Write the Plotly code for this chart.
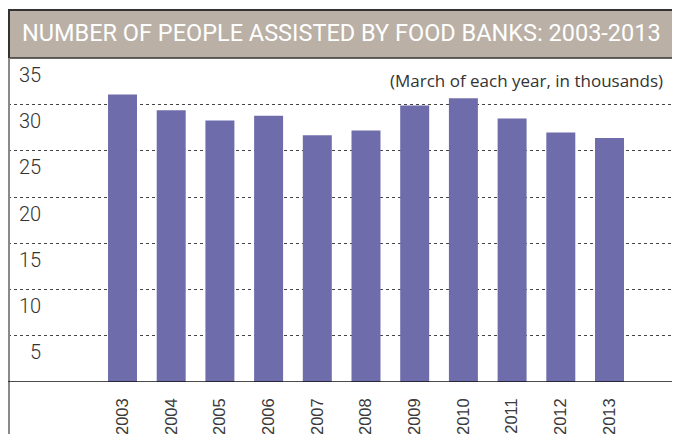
import plotly.graph_objects as go

years = ["2003", "2004", "2005", "2006", "2007", "2008", "2009", "2010", "2011", "2012", "2013"]
people_thousands = [31.1, 29.4, 28.3, 28.8, 26.7, 27.2, 29.9, 30.7, 28.5, 27.0, 26.4]
y_tick_values = [5, 10, 15, 20, 25, 30, 35]
y_tick_labels = ["5", "10", "15", "20", "25", "30", "35"]

title_text = "NUMBER OF PEOPLE ASSISTED BY FOOD BANKS: 2003-2013"
subtitle_text = "(March of each year, in thousands)"

# page body has an 8px margin, so the figure is sized to fit the 680x442 window
W, H = 672, 426
ML, MR, MT, MB = 0, 0, 50, 51.5
plot_w = W - ML - MR

fig = go.Figure()
fig.add_trace(go.Bar(
    x=years, y=people_thousands,
    marker=dict(color="#6e6cab", line=dict(width=0)),
    width=0.595,
    hoverinfo="x+y",
))

label_font = dict(family="Roboto", size=20, color="#333333", weight=300)
annotations = []
for v, t in zip(y_tick_values, y_tick_labels):
    annotations.append(dict(
        x=(35 - ML) / plot_w, xref="paper", xanchor="right",
        y=v, yref="y", yanchor="middle", yshift=-16.5,
        text=t, showarrow=False, font=label_font,
    ))
annotations.append(dict(
    x=(657 - ML) / plot_w, xref="paper", xanchor="right",
    y=1, yref="paper", yanchor="middle", yshift=-22,
    text=subtitle_text, showarrow=False,
    font=dict(family="Open Sans", size=17, color="#333333"),
))
annotations.append(dict(
    x=(12 - ML) / plot_w, xref="paper", xanchor="left",
    y=1, yref="paper", yanchor="middle", yshift=25,
    text=title_text, showarrow=False,
    font=dict(family="Roboto", size=23.5, color="#ffffff"),
))

shapes = [
    dict(type="rect", xref="paper", yref="paper", ysizemode="pixel", yanchor=1,
         x0=0, x1=1.01, y0=0, y1=48, fillcolor="#bab0a6", line=dict(width=0), layer="above"),
    dict(type="line", xref="paper", yref="paper", ysizemode="pixel", yanchor=1,
         x0=0, x1=1.01, y0=48, y1=48, line=dict(color="#333333", width=2)),
    dict(type="line", xref="paper", yref="paper", ysizemode="pixel", yanchor=1,
         x0=0, x1=1.01, y0=0, y1=0, line=dict(color="#333333", width=1.5)),
    dict(type="line", xref="paper", yref="paper", ysizemode="pixel", yanchor=1,
         x0=0.0015, x1=0.0015, y0=0, y1=48, line=dict(color="#333333", width=2)),
    dict(type="line", xref="paper", yref="paper", ysizemode="pixel", yanchor=1,
         x0=0.0015, x1=0.0015, y0=-400, y1=0, line=dict(color="#8a8a8a", width=2)),
    dict(type="line", xref="paper", yref="y", x0=0, x1=1.01, y0=0, y1=0,
         line=dict(color="#111111", width=1.5), layer="above"),
]

first_c = 114.5
step = 48.7
fig.update_layout(
    width=W, height=H,
    margin=dict(l=ML, r=MR, t=MT, b=MB, pad=0),
    paper_bgcolor="white", plot_bgcolor="white",
    showlegend=False,
    xaxis=dict(
        type="category",
        range=[(ML - first_c) / step, (W - MR - first_c) / step],
        showgrid=False, zeroline=False, showline=False,
        tickangle=-90, ticks="", ticklabelstandoff=12,
        tickfont=dict(family="Liberation Sans", size=16.5, color="#3a3a3a"),
    ),
    yaxis=dict(
        range=[0, 35.05],
        tickvals=y_tick_values[:-1],
        showticklabels=False,
        showgrid=True, gridcolor="#444444", griddash="dot", gridwidth=1,
        zeroline=False, showline=False, ticks="",
    ),
    annotations=annotations,
    shapes=shapes,
)

fig.write_html("out.html")
